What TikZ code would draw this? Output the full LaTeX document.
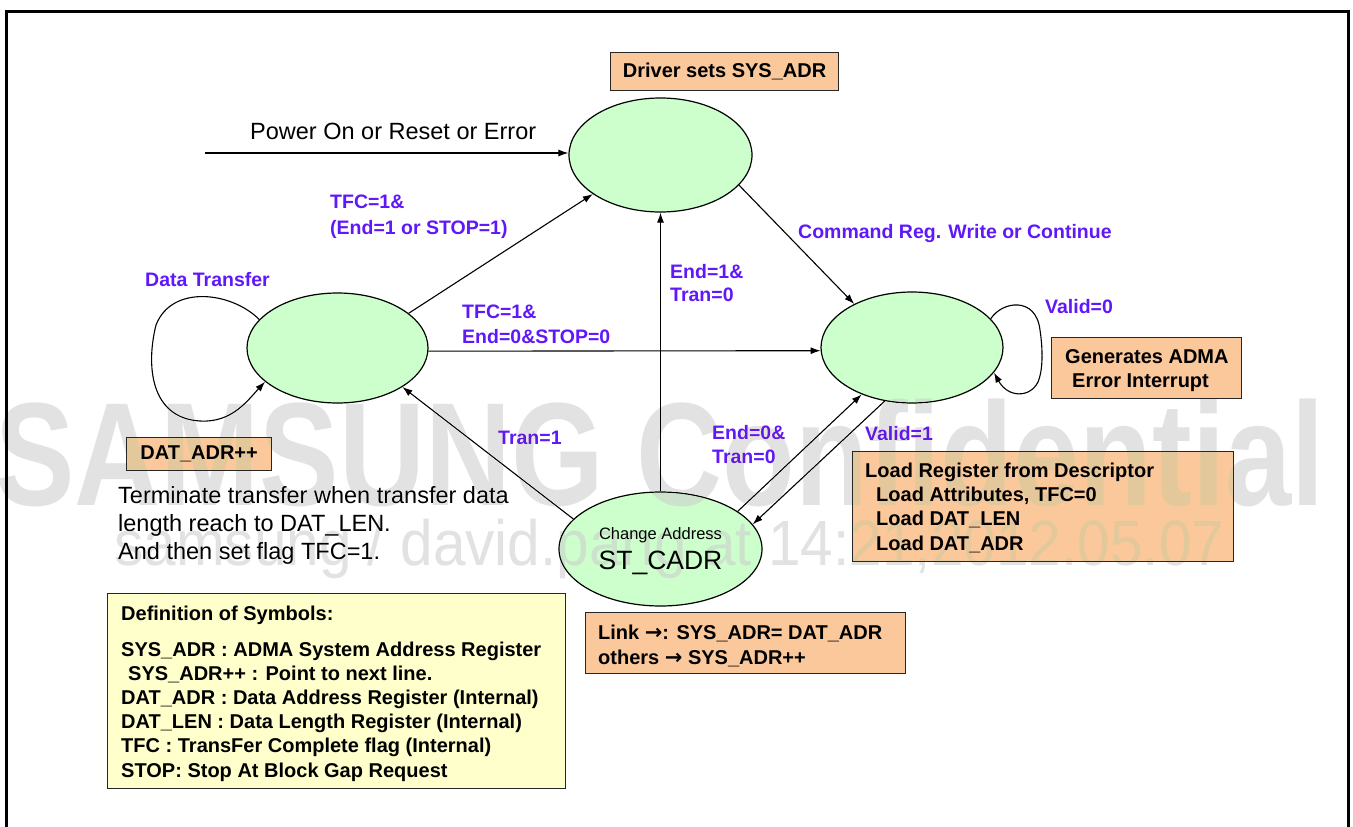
\documentclass[tikz,border=0pt]{standalone}
\usepackage{fontspec}
\setmainfont{Liberation Sans}
\newfontfamily\arrowfont{DejaVu Sans}
\usepackage{graphicx}
\usetikzlibrary{arrows.meta,shapes.geometric}
\definecolor{lbl}{RGB}{96,24,250}
\definecolor{stfill}{RGB}{204,255,204}
\definecolor{boxor}{RGB}{250,200,155}
\definecolor{boxye}{RGB}{255,255,204}
\definecolor{wmgray}{RGB}{226,226,226}
\newcommand{\rarr}{{\arrowfont\bfseries\fontsize{21}{20}\selectfont →}}
\begin{document}
\begin{tikzpicture}[x=1pt,y=-1pt,
  state/.style={ellipse,draw=black,line width=1.2pt,fill=stfill,inner sep=0pt},
  lab/.style={anchor=base west,inner sep=0pt,text=lbl,font=\fontsize{19.5}{24}\selectfont\bfseries},
  plain/.style={anchor=base west,inner sep=0pt,font=\fontsize{23.5}{28}\selectfont},
  obox/.style={rectangle,draw=black!85,line width=1.2pt,fill=boxor,anchor=north west,inner sep=0pt,font=\fontsize{20}{24.5}\selectfont\bfseries},
  conn/.style={-{Latex[length=10pt,width=7pt]},line width=1.1pt},
]
\useasboundingbox (0,0) rectangle (1353,827);
\fill[white] (0,0) rectangle (1353,827);
% frame
\draw[line width=3pt] (6.5,840) -- (6.5,11) -- (1348,11) -- (1348,840);

% states
\node[state,minimum width=183pt,minimum height=114pt] (s1) at (660.5,155) {};
\node[state,minimum width=181pt,minimum height=110pt] (s2) at (337.5,348) {};
\node[state,minimum width=182pt,minimum height=111pt] (s3) at (912,347.5) {};
\node[state,minimum width=203pt,minimum height=114pt] (s4) at (660.5,549) {};
\node[anchor=base,inner sep=0pt,font=\fontsize{16.5}{20}\selectfont] (ca) at (660.5,539) {Change Address};
\node[anchor=base,inner sep=0pt,font=\fontsize{26.5}{30}\selectfont] (st) at (660.5,569) {ST\_CADR};

% boxes
\node[obox,minimum width=228pt,minimum height=38pt] (drv) at (610,52) {};
\node[inner sep=0pt,font=\fontsize{20}{24}\selectfont\bfseries] (drvt) at (drv.center) {Driver sets SYS\_ADR};
\node[obox,minimum width=145pt,minimum height=33pt] (dat) at (126,437) {};
\node[inner sep=0pt,font=\fontsize{20}{24}\selectfont\bfseries] (datt) at (dat.center) {DAT\_ADR++};
\node[obox,minimum width=190pt,minimum height=61pt] (gen) at (1051,337) {};
\node[obox,minimum width=381pt,minimum height=110pt] (ldr) at (852,451) {};
\node[obox,minimum width=320pt,minimum height=61pt] (lnk) at (585,612) {};
\node[obox,fill=boxye,minimum width=458pt,minimum height=195pt] (def) at (107,593) {};

% box texts
\begin{scope}[every node/.style={anchor=base west,inner sep=0pt,font=\fontsize{20}{24}\selectfont\bfseries}]
\node (g1) at (1065,363) {Generates ADMA};
\node (g2) at (1072,387) {Error Interrupt};
\node (r1) at (865,477) {Load Register from Descriptor};
\node (r2) at (876,501) {Load Attributes, TFC=0};
\node (r3) at (876,525) {Load DAT\_LEN};
\node (r4) at (876,550) {Load DAT\_ADR};
\node (k1) at (598,639) {Link \rarr: SYS\_ADR= DAT\_ADR};
\node (k2) at (598,664) {others \rarr\ SYS\_ADR++};
\node (d1) at (121,620) {Definition of Symbols:};
\node (d2) at (121,656) {SYS\_ADR : ADMA System Address Register};
\node (d3) at (128,680) {SYS\_ADR++ : Point to next line.};
\node (d4) at (121,704) {DAT\_ADR : Data Address Register (Internal)};
\node (d5) at (121,728) {DAT\_LEN : Data Length Register (Internal)};
\node (d6) at (121,752) {TFC : TransFer Complete flag (Internal)};
\node (d7) at (121,777) {STOP: Stop At Block Gap Request};
\end{scope}

% plain texts
\node[plain] (pw) at (250,139) {Power On or Reset or Error};
\node[plain] (t1) at (118,503) {Terminate transfer when transfer data};
\node[plain] (t2) at (118,531) {length reach to DAT\_LEN.};
\node[plain] (t3) at (118,559) {And then set flag TFC=1.};

% labels
\node[lab] (l1) at (330,208) {TFC=1\&};
\node[lab] (l2) at (330,234) {(End=1 or STOP=1)};
\node[lab] (l3) at (145,286) {Data Transfer};
\node[lab] (l4) at (462,318) {TFC=1\&};
\node[lab] (l5) at (462,343) {End=0\&STOP=0};
\node[lab] (l6) at (670,278) {End=1\&};
\node[lab] (l7) at (670,301) {Tran=0};
\node[lab] (l8) at (798,238) {Command Reg. Write or Continue};
\node[lab] (l9) at (1045,313) {Valid=0};
\node[lab] (l10) at (498,444) {Tran=1};
\node[lab] (l11) at (712,439) {End=0\&};
\node[lab] (l12) at (712,463) {Tran=0};
\node[lab] (l13) at (865,440) {Valid=1};

% connectors
\coordinate (p0) at (205,153);
\draw[conn] (p0) -- (p0 -| s1.west);
\draw[conn] (s2.26) -- (s1.210);
\draw[conn] (s2.-2) -- (s3.182);
\draw[conn] (s4.north) -- (s1.south);
\draw[conn] (s1.-21) -- (s3.143);
\draw[conn] (s4.161) -- (s2.-31);
\draw[conn] (s4.26) -- (s3.223);
\draw[conn] (s3.243) -- (s4.15);
\draw[conn] (s2.160) .. controls (232,292) and (172,284) .. (156,325)
  .. controls (146,365) and (150,418) .. (200,421)
  .. controls (232,423) and (248,400) .. (s2.205);
\draw[conn] (s3.20) .. controls (1002,301) and (1036,296) .. (1040,330)
  .. controls (1043,350) and (1043,370) .. (1038,382)
  .. controls (1030,398) and (1008,398) .. (s3.-17);

% watermark
\begin{scope}[blend mode=darken]
\node[anchor=base west,inner sep=0pt,text=wmgray] (wm1) at (-5,505) {\scalebox{0.81}[1]{\fontsize{147}{150}\selectfont\bfseries SAMSUNG Confidential}};
\node[anchor=base west,inner sep=0pt,text=wmgray] (wm2) at (114,565) {\scalebox{0.915}[1]{\fontsize{64}{66}\selectfont samsung / david.pang at 14:21,2012.05.07}};
\end{scope}
\end{tikzpicture}
\end{document}
